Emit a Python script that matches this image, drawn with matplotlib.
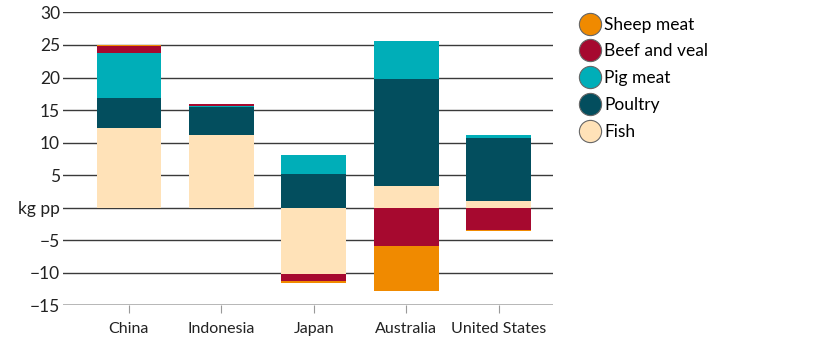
import matplotlib
matplotlib.use("Agg")
import matplotlib.pyplot as plt
from matplotlib.lines import Line2D
import numpy as np

plt.rcParams['font.family'] = ['Lato', 'DejaVu Sans']

countries = ["China", "Indonesia", "Japan", "Australia", "United States"]
# kg per person, stacked in drawing order
fish = [12.2, 11.1, -10.2, 3.3, 1.1]
poultry = [4.7, 4.4, 5.2, 16.4, 9.6]
pig = [6.8, 0.1, 2.9, 5.9, 0.4]
beef = [1.1, 0.3, -1.1, -5.8, -3.4]
sheep = [0.2, 0.1, -0.3, -7.0, -0.1]

series = [("Fish", fish, "#FFE2B8"),
          ("Poultry", poultry, "#034E5E"),
          ("Pig meat", pig, "#00AEB8"),
          ("Beef and veal", beef, "#A6092F"),
          ("Sheep meat", sheep, "#F08A00")]

fig = plt.figure(figsize=(8.16, 3.44), dpi=100)
ax = fig.add_axes([0.077, 0.112, 0.601, 0.852])

x = np.arange(len(countries))
pos_base = np.zeros(len(countries))
neg_base = np.zeros(len(countries))
for name, vals, col in series:
    v = np.array(vals)
    base = np.where(v >= 0, pos_base, neg_base)
    ax.bar(x, v, bottom=base, width=0.7, color=col, zorder=3)
    pos_base = pos_base + np.where(v >= 0, v, 0)
    neg_base = neg_base + np.where(v < 0, v, 0)

ax.set_xlim(-0.715, 4.59)
ax.set_ylim(-15, 30)
yt = np.arange(-15, 31, 5)
ax.set_yticks(yt)
ax.set_yticklabels(["kg pp" if t == 0 else ("\u2212%d" % -t if t < 0 else str(t)) for t in yt])
for t in yt:
    if t > -15:
        ax.axhline(t, color="#3a3a3a", lw=1.0, zorder=1)
ax.axhline(-15, color="#aaaaaa", lw=1.2, zorder=1)

ax.set_xticks(x)
ax.set_xticklabels(countries)
for s in ax.spines.values():
    s.set_visible(False)
ax.tick_params(axis='y', length=0, pad=2, labelsize=12.5, colors="#222222")
ax.tick_params(axis='x', length=6, color="#999999", pad=6, labelsize=11.5, colors="#222222")

handles = [Line2D([], [], marker='o', ls='', markersize=16, markerfacecolor=col,
                  markeredgecolor="#666666", markeredgewidth=0.8)
           for name, vals, col in series[::-1]]
labels = [name for name, vals, col in series[::-1]]
fig.legend(handles, labels, loc='upper left', bbox_to_anchor=(0.687, 0.997),
           frameon=False, fontsize=12.5, handletextpad=0.0, labelspacing=0.62,
           handlelength=1.6)

fig.savefig("out.png", dpi=100)
